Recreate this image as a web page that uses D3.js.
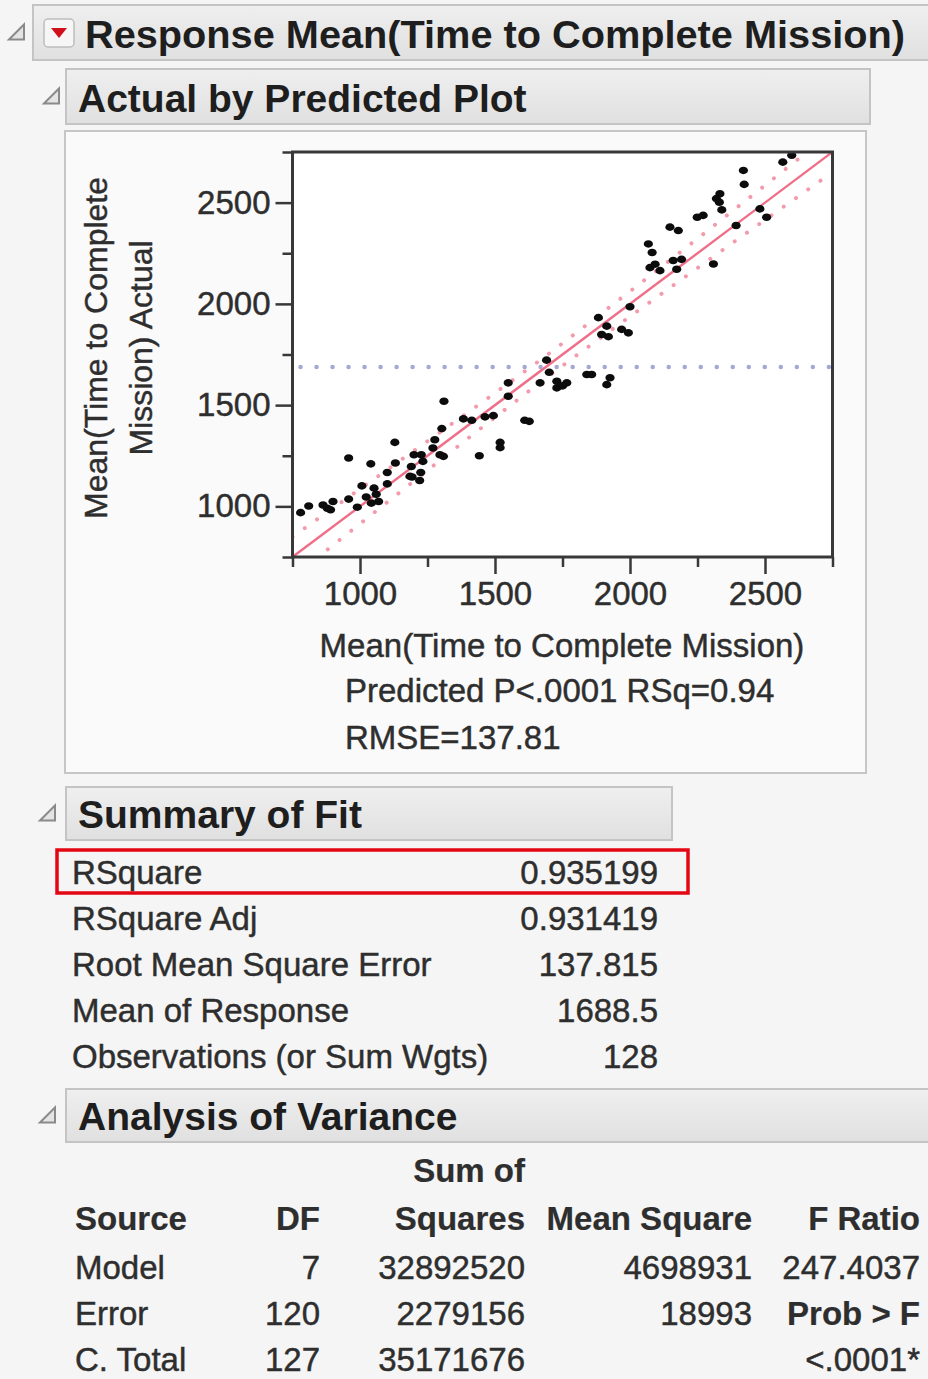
<!DOCTYPE html>
<html>
<head>
<meta charset="utf-8">
<script src="https://cdn.jsdelivr.net/npm/d3@7"></script>
<style>
  html, body { margin: 0; padding: 0; background: #f5f5f5; }
  svg { display: block; font-family: "Liberation Sans", Arial, sans-serif; }
</style>
</head>
<body>
<script>
// Points (predicted, actual)
const predicted = [780, 810, 863, 879, 891, 900, 958, 958, 990, 1007, 1023, 1040, 1052, 1042, 1069, 1060,
  1101, 1101, 1129, 1131, 1190, 1200, 1227, 1193, 1221, 1225, 1233, 1270, 1277, 1185, 1296, 1309,
  1303, 1311, 1383, 1414, 1463, 1494, 1442, 1519, 1519, 1549, 1549, 1627, 1610, 1667, 1691, 1701,
  1729, 1729, 1766, 1750, 1840, 1858, 1914, 1926, 1883, 1914, 1895, 1920, 1969, 1994, 2000, 2068,
  2082, 2074, 2093, 2111, 2160, 2173, 2191, 2148, 2179, 2249, 2271, 2309, 2333, 2331, 2340, 2320,
  2393, 2420, 2423, 2481, 2506, 2566, 2599];
const actual = [969, 1002, 1007, 991, 983, 1024, 1239, 1036, 996, 1101, 1046, 1210, 1090, 1016, 1024, 1060,
  1167, 1111, 1316, 1214, 1197, 1255, 1255, 1145, 1128, 1167, 1222, 1288, 1329, 1148, 1255, 1247,
  1384, 1519, 1432, 1425, 1442, 1448, 1250, 1316, 1290, 1610, 1544, 1420, 1425, 1610, 1722, 1662,
  1585, 1618, 1610, 1595, 1651, 1651, 1601, 1635, 1932, 1890, 1849, 1838, 1874, 1857, 1986, 2296,
  2254, 2179, 2196, 2164, 2214, 2171, 2220, 2379, 2362, 2428, 2437, 2197, 2544, 2502, 2464, 2520,
  2387, 2659, 2590, 2469, 2428, 2700, 2734];

// confidence curve half-widths read at a few predicted values
const bandPred = [750, 1000, 1250, 1500, 1690, 1900, 2150, 2400, 2750];
const bandHalf = [100, 86, 72, 60, 55, 59, 68, 80, 100];

const axisDomain = [750, 2750];
const majorTicks = [1000, 1500, 2000, 2500];
const minorTicks = [750, 1250, 1750, 2250, 2750];

const plotNotes = ['Predicted P<.0001 RSq=0.94', 'RMSE=137.81'];

// Summary of Fit
const summaryLabels = ['RSquare', 'RSquare Adj', 'Root Mean Square Error', 'Mean of Response', 'Observations (or Sum Wgts)'];
const summaryValues = ['0.935199', '0.931419', '137.815', '1688.5', '128'];
const meanResponse = 1688.5;

// Analysis of Variance
const anovaSource = ['Model', 'Error', 'C. Total'];
const anovaDF = ['7', '120', '127'];
const anovaSS = ['32892520', '2279156', '35171676'];
const anovaMS = ['4698931', '18993', ''];
const fRatio = '247.4037';
const probF = '<.0001*';

const W = 928, H = 1379;
const textCol = '#2e2e2e';

const svg = d3.select('body').append('svg')
    .attr('width', W)
    .attr('height', H);

const defs = svg.append('defs');
const grad = defs.append('linearGradient')
    .attr('id', 'barGrad')
    .attr('x1', 0).attr('y1', 0).attr('x2', 0).attr('y2', 1);
grad.append('stop').attr('offset', '0%').attr('stop-color', '#efefef');
grad.append('stop').attr('offset', '100%').attr('stop-color', '#e0e0e0');

// plain text helper, slightly heavier than the default rendering
function label(txt, xx, yy, anchor, bold) {
    return svg.append('text').text(txt)
        .attr('x', xx).attr('y', yy)
        .attr('text-anchor', anchor || 'start')
        .attr('font-size', 33)
        .attr('font-weight', bold ? 'bold' : 'normal')
        .attr('fill', textCol)
        .attr('stroke', textCol)
        .attr('stroke-width', bold ? 0.2 : 0.45);
}

// Outline node header bar with the little disclosure triangle
function headerBar(x, y, w, h, title, triX, textX) {
    svg.append('rect')
        .attr('x', x).attr('y', y)
        .attr('width', w).attr('height', h)
        .attr('fill', 'url(#barGrad)')
        .attr('stroke', '#c4c4c4')
        .attr('stroke-width', 2);
    const cy = y + h / 2;
    svg.append('path')
        .attr('d', `M${triX},${cy + 7} L${triX + 15},${cy - 8} L${triX + 15},${cy + 7} Z`)
        .attr('fill', '#e4e4e4')
        .attr('stroke', '#8a8a8a')
        .attr('stroke-width', 2);
    return svg.append('text')
        .text(title)
        .attr('x', textX)
        .attr('y', y + h - 12)
        .attr('font-size', 39)
        .attr('font-weight', 'bold')
        .attr('fill', '#1e1e1e');
}

headerBar(33, 5, 910, 55, 'Response Mean(Time to Complete Mission)', 9, 85)
    .attr('textLength', 820)
    .attr('lengthAdjust', 'spacingAndGlyphs');

// red popup menu icon
svg.append('rect')
    .attr('x', 44).attr('y', 19)
    .attr('width', 30).attr('height', 28)
    .attr('rx', 4)
    .attr('fill', '#f6f6f6')
    .attr('stroke', '#bdbdbd')
    .attr('stroke-width', 1.5);
svg.append('path')
    .attr('d', 'M51,28 L67,28 L59,38 Z')
    .attr('fill', '#d0101a');

headerBar(66, 69, 804, 55, 'Actual by Predicted Plot', 44, 78);

// Plot panel
svg.append('rect')
    .attr('x', 65).attr('y', 131)
    .attr('width', 801).attr('height', 642)
    .attr('fill', '#fafafa')
    .attr('stroke', '#c6c6c6')
    .attr('stroke-width', 2);

const x = d3.scaleLinear().domain(axisDomain).range([292.5, 832.5]);
const y = d3.scaleLinear().domain(axisDomain).range([557, 152]);

const frame = {
    x: x(axisDomain[0]), y: y(axisDomain[1]),
    w: x(axisDomain[1]) - x(axisDomain[0]),
    h: y(axisDomain[0]) - y(axisDomain[1])
};

svg.append('rect')
    .attr('x', frame.x).attr('y', frame.y)
    .attr('width', frame.w).attr('height', frame.h)
    .attr('fill', '#fff');

defs.append('clipPath').attr('id', 'plotClip')
    .append('rect')
    .attr('x', frame.x).attr('y', frame.y)
    .attr('width', frame.w).attr('height', frame.h);

const plot = svg.append('g').attr('clip-path', 'url(#plotClip)');

// mean line
plot.append('line')
    .attr('x1', x(axisDomain[0]) + 8).attr('x2', x(axisDomain[1]))
    .attr('y1', y(meanResponse)).attr('y2', y(meanResponse))
    .attr('stroke', '#a3a8d4')
    .attr('stroke-width', 4.5)
    .attr('stroke-linecap', 'round')
    .attr('stroke-dasharray', '0.01 16');

// confidence curves
const bandLine = d3.line()
    .x(d => x(d[0]))
    .y(d => y(d[1]))
    .curve(d3.curveMonotoneX);
const upper = bandPred.map((p, i) => [p, p + bandHalf[i]]);
const lower = bandPred.map((p, i) => [p, p - bandHalf[i]]);
[upper, lower].forEach(pts => {
    plot.append('path')
        .attr('d', bandLine(pts))
        .attr('fill', 'none')
        .attr('stroke', '#f39aac')
        .attr('stroke-width', 4)
        .attr('stroke-linecap', 'round')
        .attr('stroke-dasharray', '0.01 15');
});

// line of fit
plot.append('line')
    .attr('x1', x(axisDomain[0])).attr('y1', y(axisDomain[0]))
    .attr('x2', x(axisDomain[1])).attr('y2', y(axisDomain[1]))
    .attr('stroke', '#ef6f88')
    .attr('stroke-width', 2.4);

// points
plot.append('g')
    .selectAll('ellipse')
    .data(predicted.map((p, i) => [p, actual[i]]))
    .enter().append('ellipse')
    .attr('cx', d => x(d[0]))
    .attr('cy', d => y(d[1]))
    .attr('rx', 4.6)
    .attr('ry', 3.8)
    .attr('fill', '#0c0c0c');

// frame
svg.append('rect')
    .attr('x', frame.x).attr('y', frame.y)
    .attr('width', frame.w).attr('height', frame.h)
    .attr('fill', 'none')
    .attr('stroke', '#383838')
    .attr('stroke-width', 3);

// Axes
function styleAxis(g) {
    g.select('.domain').remove();
    g.selectAll('line').attr('stroke', '#383838').attr('stroke-width', 2.5);
    g.selectAll('text')
        .attr('font-size', 33)
        .attr('fill', textCol)
        .attr('stroke', textCol)
        .attr('stroke-width', 0.45)
        .attr('font-family', '"Liberation Sans", Arial, sans-serif');
}

svg.append('g')
    .attr('transform', `translate(0,${y(axisDomain[0])})`)
    .call(d3.axisBottom(x).tickValues(majorTicks).tickSize(17).tickPadding(8).tickFormat(d3.format('d')))
    .call(styleAxis);
svg.append('g')
    .attr('transform', `translate(0,${y(axisDomain[0])})`)
    .call(d3.axisBottom(x).tickValues(minorTicks).tickSize(10).tickFormat(''))
    .call(styleAxis);

svg.append('g')
    .attr('transform', `translate(${x(axisDomain[0])},0)`)
    .call(d3.axisLeft(y).tickValues(majorTicks).tickSize(17).tickPadding(5).tickFormat(d3.format('d')))
    .call(styleAxis);
svg.append('g')
    .attr('transform', `translate(${x(axisDomain[0])},0)`)
    .call(d3.axisLeft(y).tickValues(minorTicks).tickSize(10).tickFormat(''))
    .call(styleAxis);

// axis titles
const yTitle = ['Mean(Time to Complete', 'Mission) Actual'];
yTitle.forEach((t, i) => {
    label(t, 0, 0, 'middle', false)
        .attr('font-size', 32)
        .attr('transform', `translate(${107 + i * 45},348) rotate(-90)`);
});

label('Mean(Time to Complete Mission)', 562, 657, 'middle', false);

plotNotes.forEach((t, i) => {
    label(t, 345, 702 + i * 47, 'start', false);
});

// Summary of Fit
headerBar(66, 787, 606, 53, 'Summary of Fit', 40, 78);

const rowH = 46;
summaryLabels.forEach((lab, i) => {
    const by = 884 + i * rowH;
    label(lab, 72, by, 'start', false);
    label(summaryValues[i], 658, by, 'end', false);
});

// highlight box around RSquare
svg.append('rect')
    .attr('x', 57).attr('y', 850)
    .attr('width', 631).attr('height', 43)
    .attr('fill', 'none')
    .attr('stroke', '#e30613')
    .attr('stroke-width', 3.5);

// Analysis of Variance
headerBar(66, 1089, 880, 53, 'Analysis of Variance', 40, 78);

const colRight = [320, 525, 752, 920];

label('Sum of', colRight[1], 1182, 'end', true);
label('Source', 75, 1230, 'start', true);
label('DF', colRight[0], 1230, 'end', true);
label('Squares', colRight[1], 1230, 'end', true);
label('Mean Square', colRight[2], 1230, 'end', true);
label('F Ratio', colRight[3], 1230, 'end', true);

anovaSource.forEach((s, i) => {
    const by = 1279 + i * rowH;
    label(s, 75, by, 'start', false);
    label(anovaDF[i], colRight[0], by, 'end', false);
    label(anovaSS[i], colRight[1], by, 'end', false);
    label(anovaMS[i], colRight[2], by, 'end', false);
});
label(fRatio, colRight[3], 1279, 'end', false);
label('Prob > F', colRight[3], 1279 + rowH, 'end', true);
label(probF, colRight[3], 1279 + 2 * rowH, 'end', false);
</script>
</body>
</html>
